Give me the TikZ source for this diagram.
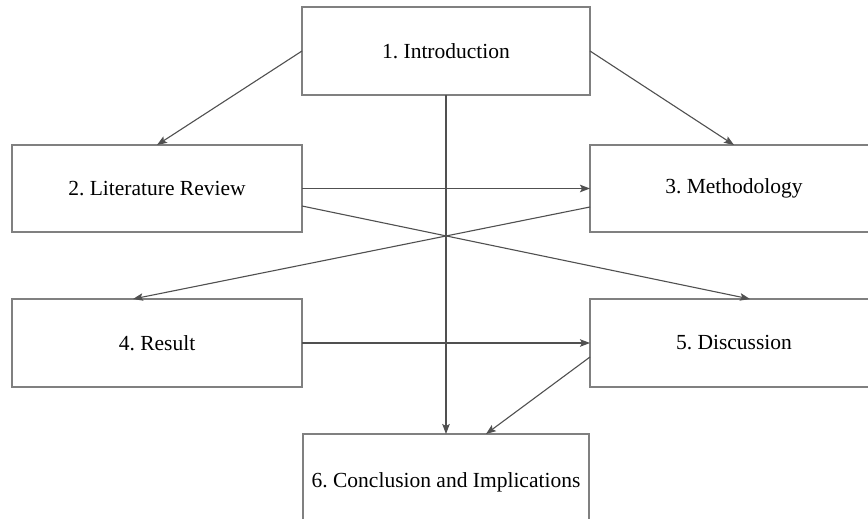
\documentclass[tikz,border=0pt]{standalone}
\usepackage{fontspec}
\setmainfont{Liberation Serif}
\usetikzlibrary{arrows.meta,calc}
\definecolor{boxgray}{HTML}{808080}
\definecolor{linegray}{HTML}{505050}
\tikzset{
  stagebox/.style={draw=boxgray, line width=1.4pt, inner sep=0pt, outer sep=0pt,
    font=\fontsize{21.5}{25}\selectfont\frenchspacing, text=black},
  arr/.style={draw=linegray, line width=1.1pt, -{Stealth[length=10pt,width=7.5pt,inset=2pt]}}
}
\begin{document}
\begin{tikzpicture}[x=1pt,y=-1pt]
\useasboundingbox (0,0) rectangle (868,519);
\clip (0,0) rectangle (868,519);
\fill[white] (0,0) rectangle (868,519);
\node[stagebox, minimum width=288pt, minimum height=88pt] (n1) at (446,51) {1. Introduction};
\node[stagebox, minimum width=290pt, minimum height=87pt] (n2) at (157,188.5) {2. Literature Review};
\node[stagebox, minimum width=288pt, minimum height=87pt] (n3) at (734,188.5) {3. Methodology};
\node[stagebox, minimum width=290pt, minimum height=88pt] (n4) at (157,343) {4. Result};
\node[stagebox, minimum width=288pt, minimum height=88pt] (n5) at (734,343) {5. Discussion};
\node[stagebox, minimum width=286pt, minimum height=96pt] (n6) at (446,482) {6. Conclusion and Implications};
\draw[arr] (n1.west) -- (n2.north);
\draw[arr] (n1.east) -- (n3.north);
\draw[arr] (n1.south) -- (n6.north);
\draw[arr] (n2.east) -- (n3.west);
\draw[arr] ($(n2.east)+(0,17.5)$) -- ($(n5.north)+(16,0)$);
\draw[arr] ($(n3.west)+(0,18.5)$) -- ($(n4.north)+(-24,0)$);
\draw[arr] (n4.east) -- (n5.west);
\draw[arr] ($(n5.west)+(0,14)$) -- ($(n6.north)+(40,0)$);
\end{tikzpicture}
\end{document}
